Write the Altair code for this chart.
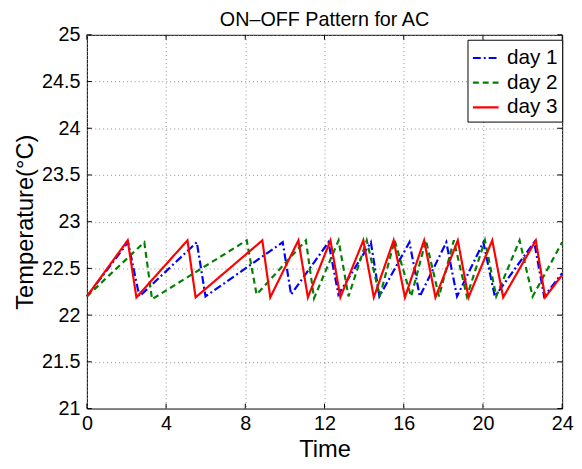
import altair as alt
import pandas as pd

# ---- data ----
title_text = ["ON\u2013OFF Pattern for AC"]
days = ["day 1", "day 2", "day 3"]

day1_time = [0, 2.08, 2.65, 5.55, 5.99, 9.89, 10.31, 12.20, 12.70, 14.34, 14.77,
             16.29, 16.81, 18.15, 18.69, 20.02, 20.60, 22.59, 23.09, 24]
day1_temp = [22.2, 22.78, 22.2, 22.78, 22.2, 22.78, 22.22, 22.78, 22.22, 22.78, 22.2,
             22.78, 22.2, 22.78, 22.2, 22.78, 22.2, 22.78, 22.2, 22.45]

day2_time = [0, 2.90, 3.29, 8.07, 8.57, 11.06, 11.47, 12.71, 13.21, 14.13, 14.79,
             15.54, 16.37, 17.12, 17.78, 18.53, 19.19, 20.10, 20.67, 21.85, 22.51, 24]
day2_temp = [22.2, 22.78, 22.17, 22.8, 22.22, 22.8, 22.18, 22.8, 22.2, 22.8, 22.2,
             22.8, 22.2, 22.8, 22.2, 22.8, 22.2, 22.8, 22.2, 22.8, 22.2, 22.78]

day3_time = [0, 2.06, 2.50, 5.08, 5.49, 8.86, 9.26, 10.68, 11.16, 12.30, 12.80,
             13.96, 14.49, 15.49, 16.06, 17.03, 17.60, 18.73, 19.27, 20.47, 21.02,
             22.67, 23.14, 24]
day3_temp = [22.2, 22.8, 22.19, 22.8, 22.19, 22.8, 22.19, 22.8, 22.19, 22.8, 22.19,
             22.8, 22.19, 22.8, 22.19, 22.8, 22.19, 22.8, 22.19, 22.8, 22.19,
             22.8, 22.19, 22.43]

x_ticks = [0, 4, 8, 12, 16, 20, 24]
y_ticks = [21, 21.5, 22, 22.5, 23, 23.5, 24, 24.5, 25]

colors = ["#0000ff", "#008000", "#ff0000"]
dashes = [[8, 3, 2, 3], [6, 4], [1, 0]]
widths = [2.2, 2.2, 2.6]

rows = []
for name, ts, vs in zip(days, [day1_time, day2_time, day3_time],
                        [day1_temp, day2_temp, day3_temp]):
    for i, (t, v) in enumerate(zip(ts, vs)):
        rows.append({"Time": t, "Temp": v, "day": name, "idx": i})
df = pd.DataFrame(rows)

W, H = 482, 379
FONT = "Liberation Sans"

xscale = alt.Scale(domain=[0, 24], nice=False, zero=False)
yscale = alt.Scale(domain=[21, 25], nice=False, zero=False)

lines = alt.Chart(df).mark_line().encode(
    x=alt.X("Time:Q", scale=xscale, title="Time",
            axis=alt.Axis(values=x_ticks, grid=True, ticks=False, domain=False,
                          labelPadding=5, titlePadding=5, labelFlush=False)),
    y=alt.Y("Temp:Q", scale=yscale, title="Temperature(°C)",
            axis=alt.Axis(values=y_ticks, format="~g", grid=True, ticks=False,
                          domain=False, labelPadding=7, titlePadding=4)),
    color=alt.Color("day:N", scale=alt.Scale(domain=days, range=colors),
                    legend=alt.Legend(title=None)),
    strokeDash=alt.StrokeDash("day:N", scale=alt.Scale(domain=days, range=dashes),
                              legend=alt.Legend(title=None)),
    strokeWidth=alt.StrokeWidth("day:N", scale=alt.Scale(domain=days, range=widths),
                                legend=None),
    order="idx:Q",
)

xt = pd.DataFrame({"Time": x_ticks})
yt = pd.DataFrame({"Temp": y_ticks})

xtick_bottom = alt.Chart(xt).mark_rule(color="black").encode(
    x=alt.X("Time:Q", scale=xscale), y=alt.value(H), y2=alt.value(H - 5))
xtick_top = alt.Chart(xt).mark_rule(color="black").encode(
    x=alt.X("Time:Q", scale=xscale), y=alt.value(0), y2=alt.value(5))
ytick_left = alt.Chart(yt).mark_rule(color="black").encode(
    y=alt.Y("Temp:Q", scale=yscale), x=alt.value(0), x2=alt.value(5))
ytick_right = alt.Chart(yt).mark_rule(color="black").encode(
    y=alt.Y("Temp:Q", scale=yscale), x=alt.value(W), x2=alt.value(W - 5))

title = alt.Chart(pd.DataFrame({"t": title_text})).mark_text(
    font=FONT, fontSize=20, color="black", align="center", baseline="alphabetic"
).encode(text="t:N", x=alt.value(W / 2), y=alt.value(-9))

chart = alt.layer(lines, xtick_bottom, xtick_top, ytick_left, ytick_right, title).properties(
    width=W, height=H,
    padding={"left": 80, "top": 24, "right": 12, "bottom": 50},
    autosize=alt.AutoSizeParams(type="none"),
).configure_view(
    stroke="black", strokeWidth=1
).configure_axis(
    labelFont=FONT, labelFontSize=20, labelColor="black",
    titleFont=FONT, titleFontSize=24, titleFontWeight="normal", titleColor="black",
    gridColor="#8c8c8c", gridDash=[1, 3], gridWidth=1,
).configure_legend(
    orient="none", legendX=386, legendY=5,
    strokeColor="black", fillColor="white", padding=4, cornerRadius=0,
    labelFont=FONT, labelFontSize=21, labelColor="black", labelOffset=7,
    symbolType="stroke", symbolSize=680, symbolStrokeWidth=2.2, rowPadding=0,
)

chart.save("out.html", embed_options={"renderer": "svg", "actions": False})
